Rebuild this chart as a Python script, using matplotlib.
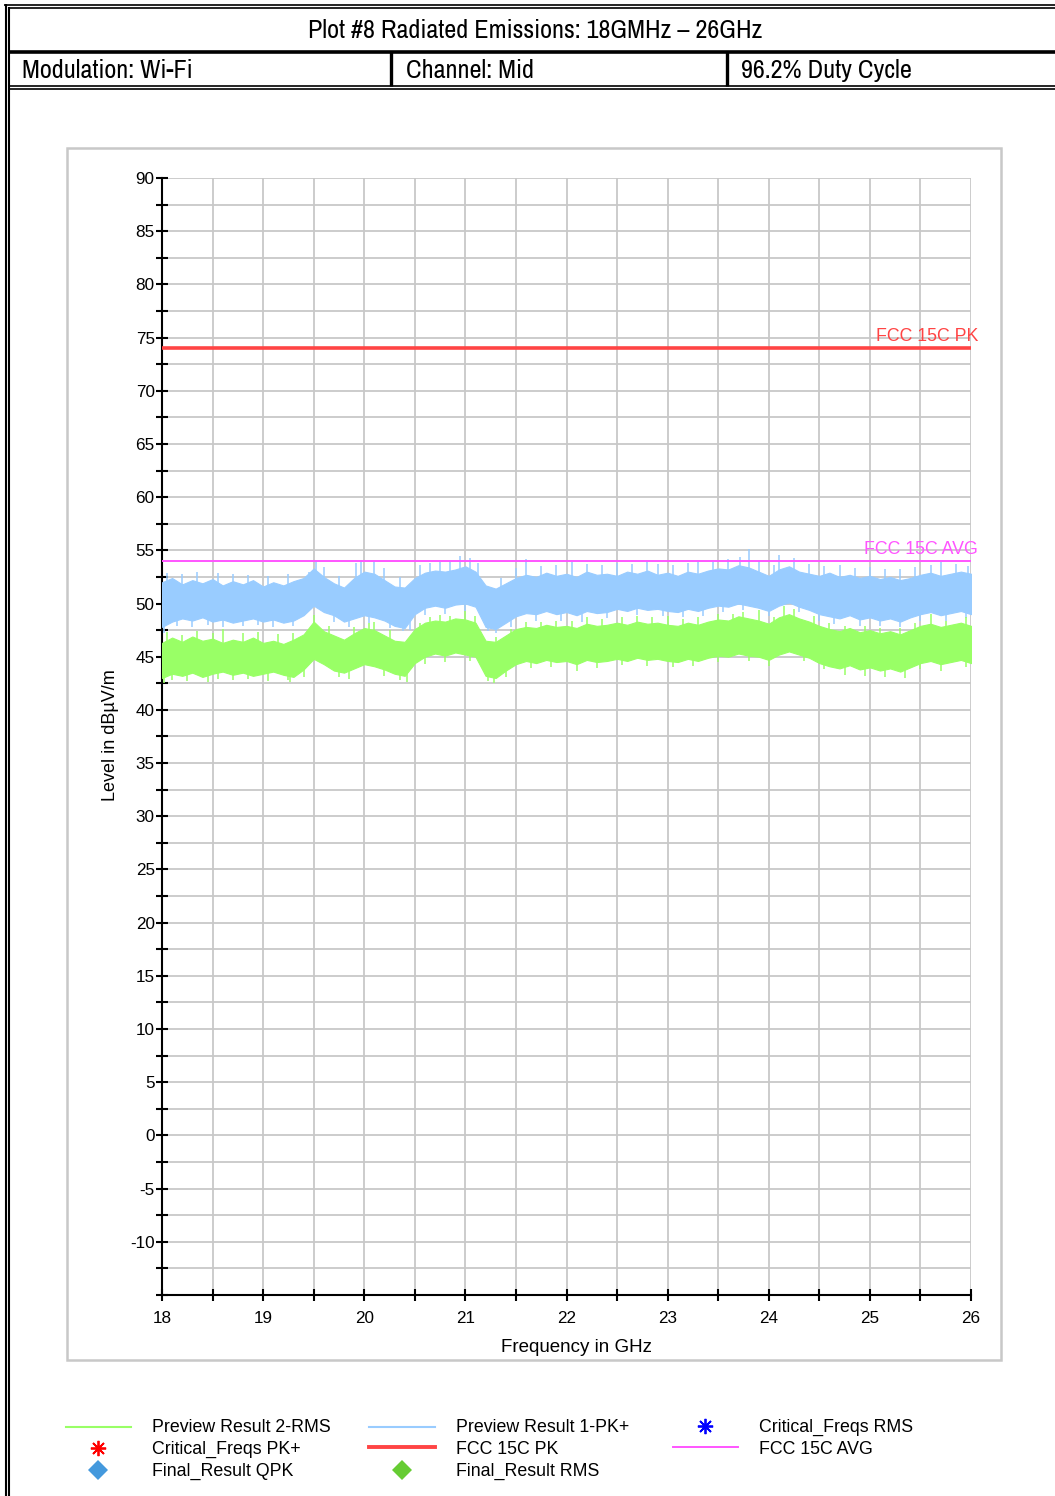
import matplotlib
matplotlib.use("Agg")
import matplotlib.pyplot as plt
import numpy as np
from matplotlib import font_manager
from matplotlib.font_manager import FontProperties
from matplotlib.patches import Rectangle
from matplotlib.ticker import MultipleLocator

plt.rcParams['font.family'] = ['Liberation Sans', 'DejaVu Sans']
plt.rcParams['axes.unicode_minus'] = False

# ---- data (levels in dBuV/m) ----
freq_ghz = [18.0 + 0.1 * i for i in range(81)]

pk_upper = [52.0, 52.4, 51.8, 52.2, 51.9, 52.3, 51.7, 52.1, 51.8, 52.2,
            51.6, 52.0, 51.7, 52.1, 52.4, 53.3, 52.5, 51.9, 51.5, 52.4,
            53.0, 52.8, 52.2, 51.6, 51.5, 52.4, 52.9, 53.1, 53.0, 53.2,
            53.5, 53.0, 51.7, 51.4, 51.9, 52.4, 52.7, 52.5, 52.9, 52.6,
            52.8, 52.5, 53.0, 52.7, 52.8, 52.6, 53.0, 52.8, 53.1, 52.7,
            52.9, 52.6, 53.0, 52.8, 53.1, 53.3, 53.2, 53.6, 53.4, 53.0,
            52.6, 53.2, 53.5, 53.0, 52.8, 52.6, 52.9, 52.5, 52.7, 52.4,
            52.6, 52.3, 52.5, 52.2, 52.4, 52.7, 52.9, 52.6, 52.8, 53.0,
            52.8]
pk_lower = [47.8, 48.3, 48.6, 48.4, 48.7, 48.3, 48.5, 48.2, 48.4, 48.6,
            48.3, 48.5, 48.2, 48.4, 48.9, 49.8, 49.2, 48.9, 48.3, 48.6,
            48.9, 48.7, 48.4, 47.9, 47.7, 49.0, 49.6, 49.8, 49.6, 49.9,
            50.0, 49.7, 47.8, 47.6, 48.2, 48.8, 49.1, 49.0, 49.3, 49.0,
            49.2, 48.9, 49.3, 49.1, 49.2, 49.5, 49.3, 49.6, 49.4, 49.5,
            49.3, 49.2, 49.5, 49.3, 49.6, 49.8, 49.7, 50.0, 49.8, 49.6,
            49.3, 49.8, 50.1, 49.7, 49.4, 49.0, 48.8, 48.6, 48.9, 48.5,
            48.7, 48.4, 48.6, 48.3, 48.7, 49.0, 49.2, 48.9, 49.1, 49.3,
            49.0]
rms_upper = [46.3, 46.8, 46.4, 46.9, 46.5, 46.7, 46.3, 46.6, 46.4, 46.8,
             46.3, 46.5, 46.2, 46.6, 47.1, 48.3, 47.4, 47.0, 46.6, 47.2,
             47.7, 47.5, 47.0, 46.5, 46.4, 47.6, 48.2, 48.4, 48.3, 48.6,
             48.5, 48.2, 46.5, 46.4, 47.0, 47.6, 47.8, 47.7, 48.0, 47.8,
             47.9, 47.7, 48.1, 47.9, 48.0, 48.2, 48.0, 48.3, 48.1, 48.2,
             48.0, 47.9, 48.2, 48.0, 48.3, 48.5, 48.4, 48.8, 48.6, 48.4,
             48.1, 48.7, 49.0, 48.6, 48.3, 47.9, 47.6, 47.4, 47.7, 47.3,
             47.5, 47.2, 47.4, 47.1, 47.5, 47.9, 48.1, 47.8, 48.0, 48.2,
             47.9]
rms_lower = [43.0, 43.4, 43.2, 43.5, 43.1, 43.4, 43.6, 43.3, 43.5, 43.2,
             43.4, 43.6, 43.3, 43.1, 43.8, 44.8, 44.3, 43.7, 43.5, 43.9,
             44.3, 44.1, 43.8, 43.4, 43.2, 44.4, 45.0, 45.3, 45.1, 45.4,
             45.2, 45.0, 43.2, 43.0, 43.7, 44.3, 44.6, 44.4, 44.7, 44.5,
             44.6, 44.3, 44.7, 44.5, 44.6, 44.8, 44.6, 44.9, 44.7, 44.8,
             44.6, 44.5, 44.8, 44.6, 44.9, 45.1, 45.0, 45.3, 45.1, 45.0,
             44.7, 45.2, 45.5, 45.2, 44.9, 44.4, 44.1, 43.9, 44.2, 43.8,
             44.0, 43.7, 43.9, 43.6, 44.0, 44.4, 44.6, 44.3, 44.5, 44.7,
             44.4]

# single spikes sticking out of the band edges
pk_up_freq = [18.05, 18.2, 18.35, 18.55, 18.7, 18.85, 19.05, 19.25, 19.45, 19.52,
              19.6, 19.75, 19.92, 19.97, 20.1, 20.2, 20.35, 20.55, 20.65, 20.75,
              20.85, 20.95, 21.05, 21.12, 21.35, 21.5, 21.6, 21.75, 21.9, 22.05,
              22.2, 22.35, 22.5, 22.65, 22.8, 22.9, 23.05, 23.2, 23.3, 23.45,
              23.6, 23.72, 23.8, 23.9, 24.05, 24.1, 24.25, 24.4, 24.55, 24.7,
              24.85, 25.0, 25.15, 25.3, 25.45, 25.6, 25.7, 25.85, 25.97]
pk_up_val = [52.9, 52.8, 53.0, 52.9, 52.8, 52.7, 52.6, 52.8, 53.0, 54.0,
             53.4, 52.6, 53.8, 54.1, 54.0, 53.3, 52.5, 53.6, 53.8, 53.9,
             54.0, 54.5, 54.3, 53.8, 52.4, 53.3, 54.2, 53.5, 53.6, 53.9,
             53.7, 53.6, 53.8, 53.7, 53.9, 53.7, 53.6, 53.8, 53.9, 53.9,
             54.2, 54.4, 55.1, 54.0, 53.6, 54.6, 54.3, 53.7, 53.5, 53.6,
             53.3, 53.4, 53.2, 53.2, 53.4, 53.6, 53.9, 53.7, 53.5]
pk_dn_freq = [18.02, 18.15, 18.3, 18.45, 18.6, 18.8, 18.95, 19.1, 19.3, 19.7,
              19.85, 20.05, 20.25, 20.38, 20.45, 20.6, 20.8, 21.0, 21.22, 21.3,
              21.45, 21.7, 21.95, 22.15, 22.4, 22.7, 22.95, 23.15, 23.35, 23.55,
              23.75, 24.0, 24.3, 24.5, 24.65, 24.9, 25.1, 25.3, 25.5, 25.75, 25.95]
pk_dn_val = [47.2, 47.9, 47.8, 48.0, 47.8, 47.9, 48.0, 47.8, 47.9, 48.3,
             47.8, 48.2, 47.7, 47.4, 47.5, 48.9, 49.0, 49.3, 47.4, 47.2,
             47.8, 48.4, 48.4, 48.3, 48.6, 48.9, 48.8, 48.7, 48.8, 49.2,
             49.4, 48.8, 49.2, 48.4, 48.1, 47.9, 47.9, 47.8, 48.4, 48.4, 48.6]

rms_up_freq = [18.05, 18.2, 18.35, 18.5, 18.6, 18.8, 18.95, 19.15, 19.3, 19.45,
               19.5, 19.65, 19.9, 20.05, 20.1, 20.25, 20.55, 20.65, 20.75, 20.85,
               21.0, 21.1, 21.3, 21.45, 21.6, 21.75, 21.9, 22.05, 22.2, 22.35,
               22.55, 22.7, 22.85, 23.0, 23.15, 23.3, 23.5, 23.65, 23.75, 23.9,
               24.05, 24.15, 24.25, 24.45, 24.6, 24.75, 24.95, 25.1, 25.3, 25.45,
               25.6, 25.75, 25.95]
rms_up_val = [47.3, 47.0, 47.4, 47.2, 47.6, 47.2, 47.3, 47.1, 47.2, 47.6,
              48.9, 47.9, 47.8, 48.2, 48.3, 47.5, 48.2, 48.7, 48.9, 48.8,
              49.3, 48.8, 46.9, 47.6, 48.3, 48.3, 48.4, 48.4, 48.7, 48.5,
              48.7, 48.8, 48.7, 48.8, 48.5, 48.7, 49.0, 49.0, 49.2, 49.4,
              48.7, 49.8, 49.5, 48.8, 48.2, 47.9, 47.9, 47.7, 47.7, 48.2,
              49.0, 48.4, 48.7]
rms_dn_freq = [18.02, 18.1, 18.25, 18.45, 18.55, 18.7, 18.85, 19.05, 19.25, 19.27,
               19.4, 19.75, 19.85, 20.2, 20.35, 20.42, 20.6, 20.8, 21.05, 21.22,
               21.28, 21.4, 21.65, 21.85, 22.1, 22.3, 22.55, 22.8, 23.05, 23.25,
               23.5, 23.8, 24.0, 24.35, 24.55, 24.75, 24.95, 25.15, 25.35, 25.5,
               25.7, 25.95]
rms_dn_val = [42.5, 42.8, 42.7, 42.6, 42.9, 42.8, 42.9, 42.7, 42.8, 42.6,
              43.1, 43.1, 42.9, 43.2, 42.8, 42.6, 44.3, 44.5, 44.6, 42.7,
              42.5, 43.1, 43.9, 44.0, 43.7, 43.9, 44.2, 44.1, 44.0, 44.1,
              44.5, 44.6, 44.1, 44.6, 43.8, 43.3, 43.2, 43.1, 43.0, 43.8,
              43.7, 44.0]

fcc_pk_limit = 74.0
fcc_avg_limit = 54.0

x_ticks = [18, 19, 20, 21, 22, 23, 24, 25, 26]
y_ticks = list(range(-10, 91, 5))

header_title = "Plot #8 Radiated Emissions: 18GMHz \u2013 26GHz"
header_cells = ["Modulation: Wi-Fi", "Channel: Mid", "96.2% Duty Cycle"]

C_PK = '#99ccff'
C_RMS = '#99ff66'
C_RED = '#ff4444'
C_MAG = '#ff55ff'


def pick_narrow_font():
    # header uses a narrow sans face if one is installed
    fonts = font_manager.fontManager.ttflist
    for want in ['Liberation Sans Narrow', 'Arial Narrow']:
        for f in fonts:
            if f.name == want and f.weight in (400, 'normal', 'regular') and f.style == 'normal':
                return f.fname, 20.6
    for f in fonts:
        if ('Narrow' in f.name or 'Condensed' in f.name) and 'Serif' not in f.name \
                and 'Mono' not in f.name and f.style == 'normal' \
                and f.weight in (400, 'normal', 'regular'):
            return f.fname, 18.9
    for f in fonts:
        if f.name in ('DejaVu Sans', 'Noto Sans', 'Open Sans', 'Roboto') \
                and f.stretch in ('condensed', 'semi-condensed') \
                and f.style == 'normal' and f.weight in (400, 'normal', 'regular'):
            return f.fname, 18.9
    return None, 15.8


W, H = 1055, 1496
fig = plt.figure(figsize=(W / 100, H / 100), dpi=100)

# ---- page frame / header drawn in pixel coordinates ----
bg = fig.add_axes([0, 0, 1, 1], zorder=0)
bg.set_xlim(0, W)
bg.set_ylim(H, 0)
bg.axis('off')

k = dict(color='black', solid_capstyle='butt')
bg.plot([4, W], [4.5, 4.5], lw=1.2, **k)
bg.plot([8, W], [7.5, 7.5], lw=1.2, **k)
bg.plot([5.5, 5.5], [4, H], lw=1.5, **k)
bg.plot([8.5, 8.5], [7, H], lw=1.5, **k)
bg.plot([8, W], [51.5, 51.5], lw=2.6, **k)
bg.plot([8, W], [86, 86], lw=1.2, **k)
bg.plot([8, W], [89, 89], lw=1.2, **k)
bg.plot([391, 391], [52, 86], lw=2.4, **k)
bg.plot([727, 727], [52, 86], lw=2.4, **k)

fpath, fsize = pick_narrow_font()
if fpath:
    hdr = dict(fontproperties=FontProperties(fname=fpath, size=fsize))
else:
    hdr = dict(fontsize=fsize, family=['DejaVu Sans'])
bg.text(535, 30, header_title, ha='center', va='center', **hdr)
for xpos, txt in zip([22, 406, 741], header_cells):
    bg.text(xpos, 70, txt, ha='left', va='center', **hdr)

bg.add_patch(Rectangle((67, 148), 934, 1212, fill=False,
                       edgecolor='#c8c8c8', lw=1.8))

# ---- main plot ----
ax = fig.add_axes([162 / W, 201 / H, 809 / W, 1117 / H], zorder=1)
ax.patch.set_alpha(0)

ax.fill_between(freq_ghz, pk_lower, pk_upper, color=C_PK, lw=0.8,
                edgecolor=C_PK, zorder=3)
ax.fill_between(freq_ghz, rms_lower, rms_upper, color=C_RMS, lw=0.8,
                edgecolor=C_RMS, zorder=3)

ax.vlines(pk_up_freq, np.interp(pk_up_freq, freq_ghz, pk_upper) - 1.0,
          pk_up_val, color=C_PK, lw=1.1, zorder=3)
ax.vlines(pk_dn_freq, pk_dn_val, np.interp(pk_dn_freq, freq_ghz, pk_lower) + 1.0,
          color=C_PK, lw=1.1, zorder=3)
ax.vlines(rms_up_freq, np.interp(rms_up_freq, freq_ghz, rms_upper) - 1.0,
          rms_up_val, color=C_RMS, lw=1.1, zorder=3)
ax.vlines(rms_dn_freq, rms_dn_val, np.interp(rms_dn_freq, freq_ghz, rms_lower) + 1.0,
          color=C_RMS, lw=1.1, zorder=3)

ax.axhline(fcc_pk_limit, color=C_RED, lw=2.6, zorder=4)
ax.axhline(fcc_avg_limit, color=C_MAG, lw=1.4, zorder=4)
ax.text(26.07, fcc_pk_limit + 0.3, "FCC 15C PK", color=C_RED, fontsize=12.8,
        ha='right', va='bottom', clip_on=False, zorder=5)
ax.text(26.07, fcc_avg_limit + 0.3, "FCC 15C AVG", color=C_MAG, fontsize=12.8,
        ha='right', va='bottom', clip_on=False, zorder=5)

ax.set_xlim(18, 26)
ax.set_ylim(-15, 90)
ax.set_xticks(x_ticks)
ax.set_yticks(y_ticks)
ax.xaxis.set_minor_locator(MultipleLocator(0.5))
ax.yaxis.set_minor_locator(MultipleLocator(2.5))
ax.grid(True, which='both', color='#c8c8c8', lw=1.3, zorder=0)
ax.set_axisbelow(True)
for s in ['top', 'right']:
    ax.spines[s].set_visible(False)
for s in ['left', 'bottom']:
    ax.spines[s].set_linewidth(1.5)
ax.tick_params(which='both', direction='inout', length=8.5, width=1.5,
               labelsize=12.3)
ax.tick_params(axis='x', which='major', pad=7)
ax.tick_params(axis='y', which='major', pad=1)

ax.set_xlabel("Frequency in GHz", fontsize=13.5)
ax.set_ylabel("Level in dB\u00b5V/m", fontsize=13)
ax.xaxis.set_label_coords((576 - 162) / 809, (1295 - 1339) / 1117)
ax.yaxis.set_label_coords((119 - 162) / 809, (1295 - 735) / 1117)

# ---- legend (manual, pixel coordinates) ----
rows = [1427, 1449, 1471]
bg.plot([66, 131], [rows[0], rows[0]], color=C_RMS, lw=1.5)
bg.plot([369, 435], [rows[0], rows[0]], color=C_PK, lw=1.5)
bg.plot([705], [rows[0] - 1], marker=(8, 2, 0), ms=11, mew=1.3, color='#0000ff')
bg.plot([98], [rows[1] - 1], marker=(8, 2, 0), ms=11, mew=1.3, color='#ff0000')
bg.plot([369, 435], [rows[1] - 2, rows[1] - 2], color=C_RED, lw=2.8)
bg.plot([673, 738], [rows[1] - 2, rows[1] - 2], color=C_MAG, lw=1.4)
bg.plot([98], [rows[2] - 1], marker='D', ms=10, color='#4499dd', mew=0)
bg.plot([402], [rows[2] - 1], marker='D', ms=10, color='#66cc33', mew=0)

legend_text = [(152, 0, "Preview Result 2-RMS"), (456, 0, "Preview Result 1-PK+"),
               (759, 0, "Critical_Freqs RMS"), (152, 1, "Critical_Freqs PK+"),
               (456, 1, "FCC 15C PK"), (759, 1, "FCC 15C AVG"),
               (152, 2, "Final_Result QPK"), (456, 2, "Final_Result RMS")]
for xpos, r, txt in legend_text:
    bg.text(xpos, rows[r], txt, ha='left', va='center', fontsize=12.8)

fig.savefig("out.png", dpi=100)
